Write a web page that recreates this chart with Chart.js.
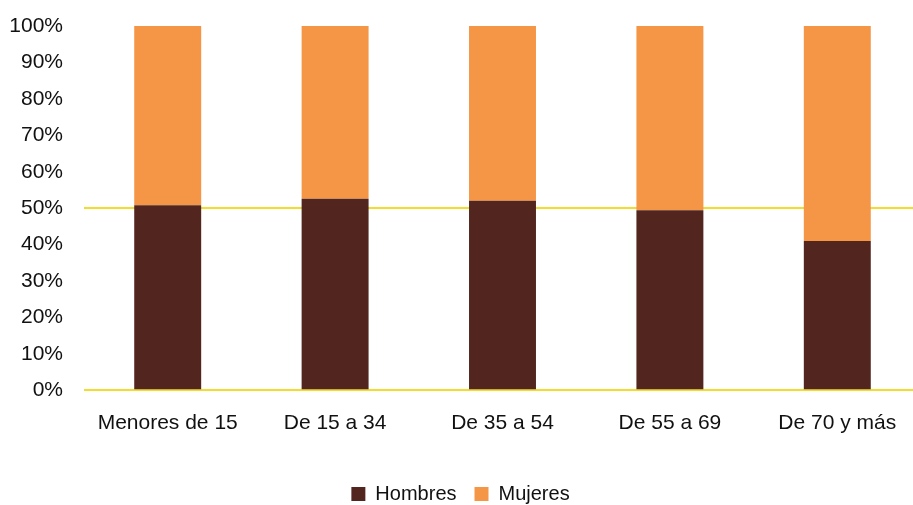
<!DOCTYPE html>
<html>
<head>
<meta charset="utf-8">
<script src="https://cdn.jsdelivr.net/npm/chart.js@4/dist/chart.umd.min.js"></script>
<style>
html,body{margin:0;padding:0;background:#fff;overflow:hidden;height:505px;width:913px;}
#wrap{width:921px;height:514px;position:relative;}
</style>
</head>
<body>
<div id="wrap"><canvas id="c"></canvas></div>
<script>
const categories = ["Menores de 15", "De 15 a 34", "De 35 a 54", "De 55 a 69", "De 70 y más"];
const hombres = [50.8, 52.6, 52.0, 49.4, 41.0];
const mujeres = [49.2, 47.4, 48.0, 50.6, 59.0];
const yTicks = [0, 10, 20, 30, 40, 50, 60, 70, 80, 90, 100];

const FONT = "'Liberation Sans', Arial, sans-serif";
Chart.defaults.font.family = FONT;
Chart.defaults.color = '#111';

new Chart(document.getElementById('c'), {
  type: 'bar',
  data: {
    labels: categories,
    datasets: [
      {label: 'Hombres', data: hombres, backgroundColor: '#52261f', borderWidth: 0},
      {label: 'Mujeres', data: mujeres, backgroundColor: '#f59646', borderWidth: 0}
    ]
  },
  options: {
    responsive: true,
    maintainAspectRatio: false,
    animation: false,
    layout: {padding: {top: 0, left: 0, right: 0, bottom: 0}},
    datasets: {bar: {categoryPercentage: 0.8, barPercentage: 0.5}},
    plugins: {
      legend: {
        position: 'bottom',
        labels: {boxWidth: 14, boxHeight: 14, font: {size: 20}, padding: 18, color: '#111'}
      },
      tooltip: {enabled: false}
    },
    scales: {
      x: {
        stacked: true,
        grid: {display: false},
        border: {display: false},
        ticks: {font: {size: 21}, padding: 12, color: '#111', maxRotation: 0},
        afterFit: (s) => { s.height += 18.5; }
      },
      y: {
        stacked: true,
        min: 0, max: 100,
        afterBuildTicks: (s) => { s.ticks = yTicks.map(v => ({value: v})); },
        afterFit: (s) => { s.width = 84; s.paddingTop = 26; },
        grid: {
          drawTicks: false,
          color: (ctx) => (ctx.tick && (ctx.tick.value === 0 || ctx.tick.value === 50)) ? '#f2dc2e' : 'rgba(0,0,0,0)',
          lineWidth: 2
        },
        border: {display: false},
        ticks: {font: {size: 21}, padding: 21, color: '#111', callback: (v) => v + '%'}
      }
    }
  }
});
</script>
</body>
</html>
